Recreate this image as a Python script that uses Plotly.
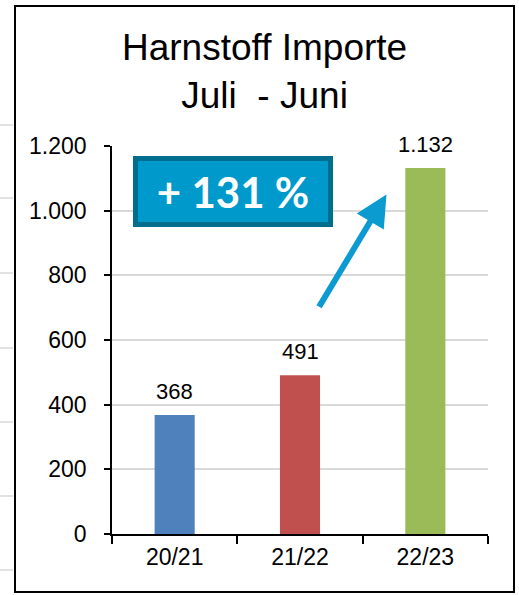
import plotly.graph_objects as go

# Harnstoff-Importe, Wirtschaftsjahr Juli - Juni (in 1.000 t)
seasons = ["20/21", "21/22", "22/23"]
imports = [368, 491, 1132]
bar_colors = ["#4F81BD", "#C0504D", "#9BBB59"]
y_ticks = [0, 200, 400, 600, 800, 1000, 1200]
change_label = "+ 131 %"

W, H = 519, 595
L, R, T, B = 112, 31, 146, 61
PW, PH = W - L - R, H - T - B
FONT = "Liberation Sans, Arial"


def px_x(px):
    return (px - L) / PW


def px_y(py):
    return (H - B - py) / PH


def de_num(v):
    return f"{v:,}".replace(",", ".")


fig = go.Figure()
fig.add_trace(go.Bar(
    x=seasons,
    y=imports,
    marker=dict(color=bar_colors, line=dict(width=0)),
    width=0.32,
    hoverinfo="skip",
))

# value labels above the bars
for s, v in zip(seasons, imports):
    fig.add_annotation(
        x=s, y=v, text=de_num(v), showarrow=False,
        yanchor="bottom", yshift=9,
        font=dict(family=FONT, size=22, color="#000000"),
    )

# growth arrow towards the last season
fig.add_annotation(
    x=1.69, y=1050, ax=1.145, ay=698,
    xref="x", yref="y", axref="x", ayref="y",
    text="", showarrow=True,
    arrowhead=2, arrowsize=1.05, arrowwidth=6, arrowcolor="#0B9BD0",
)

# growth badge
fig.add_annotation(
    xref="paper", yref="paper",
    x=px_x(233), y=px_y(191.5),
    xanchor="center", yanchor="middle",
    text=f"<b>{change_label}</b>", showarrow=False,
    font=dict(family="Lato, Open Sans", size=42, color="#FFFFFF"),
    bgcolor="#0099CC", bordercolor="#006E8C", borderwidth=5,
    width=186, height=57, borderpad=2,
)

# title
fig.add_annotation(
    xref="paper", yref="paper",
    x=px_x(264.5), y=px_y(25),
    xanchor="center", yanchor="top",
    text="Harnstoff Importe<br>Juli  - Juni", showarrow=False,
    font=dict(family=FONT, size=37, color="#000000"),
)

shapes = [
    # chart frame
    dict(type="rect", xref="paper", yref="paper",
         x0=px_x(15), x1=px_x(514), y0=px_y(592), y1=px_y(6),
         line=dict(color="#000000", width=2), fillcolor="rgba(0,0,0,0)",
         layer="below"),
]
# gridline stubs of the neighbouring chart at the left edge
for py in [125, 198, 273, 348, 422, 496, 570]:
    shapes.append(dict(type="line", xref="paper", yref="paper",
                       x0=px_x(0), x1=px_x(13), y0=px_y(py), y1=px_y(py),
                       line=dict(color="#D9D9D9", width=1.5)))

fig.update_layout(
    width=W, height=H,
    margin=dict(l=L, r=R, t=T, b=B, pad=0),
    paper_bgcolor="#FFFFFF", plot_bgcolor="#FFFFFF",
    separators=",.",
    showlegend=False,
    shapes=shapes,
)
fig.update_xaxes(
    type="category", range=[-0.5, 2.5],
    showline=True, linecolor="#000000", linewidth=1.5,
    ticks="outside", ticklen=8, tickcolor="#000000", tickwidth=1.5,
    tickson="boundaries", showgrid=False, zeroline=False,
    tickfont=dict(family=FONT, size=23, color="#000000"),
    ticklabelstandoff=2,
)
fig.update_yaxes(
    range=[0, 1200], tickvals=y_ticks, separatethousands=True,
    showline=True, linecolor="#000000", linewidth=1.5,
    ticks="outside", ticklen=6, tickcolor="#000000", tickwidth=1.5,
    showgrid=True, gridcolor="#D9D9D9", gridwidth=1.5, zeroline=False,
    tickfont=dict(family=FONT, size=23, color="#000000"),
    ticklabelstandoff=13,
)

fig.write_html("out.html")
